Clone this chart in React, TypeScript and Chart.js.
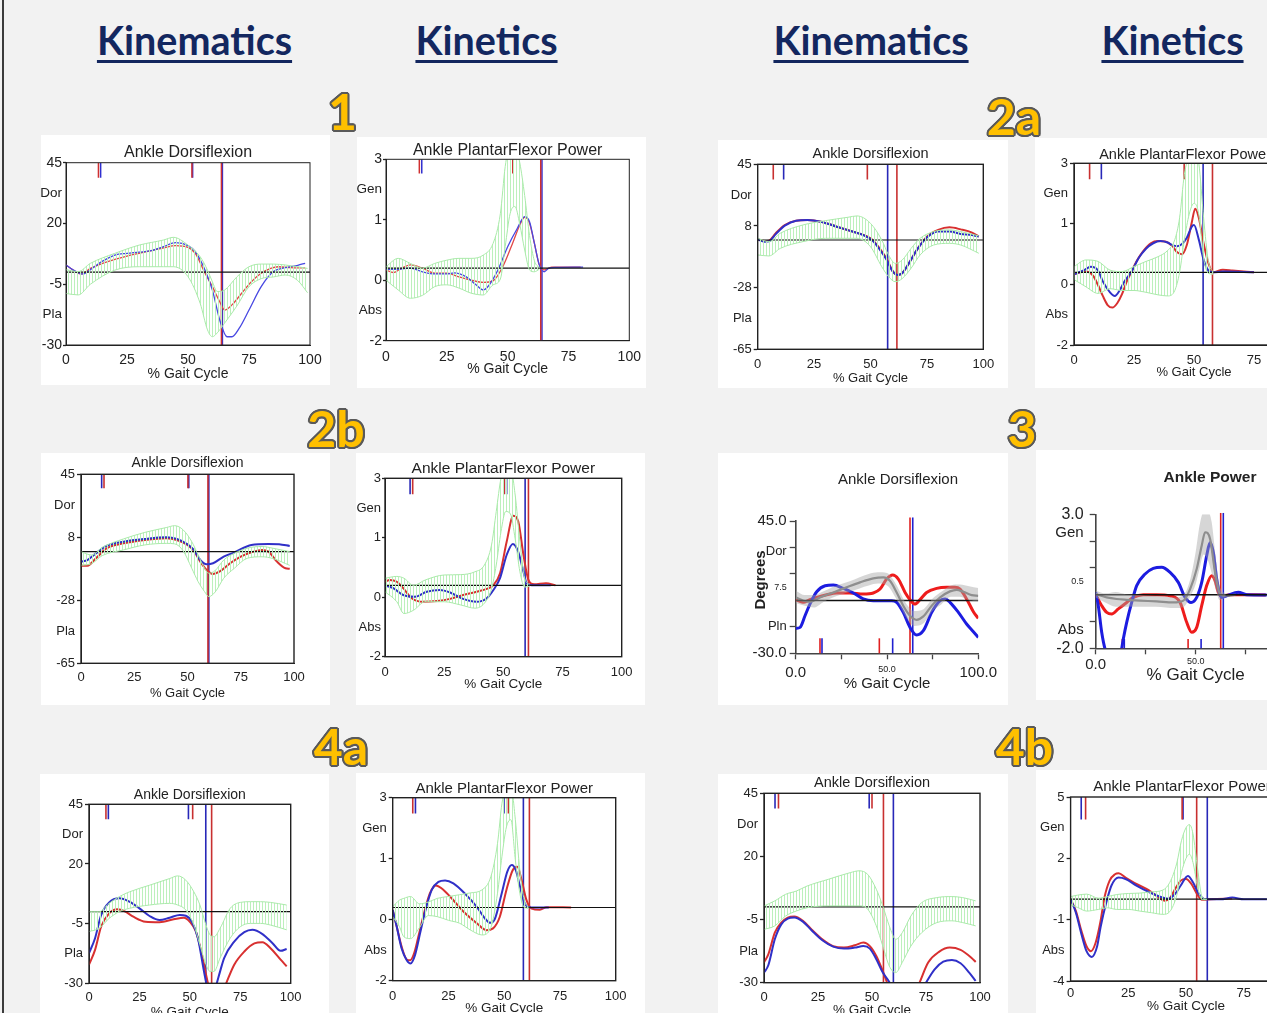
import React, { useEffect, useRef } from 'react';
import { Chart, registerables } from 'chart.js';

Chart.register(...registerables);

type Pt = [number, number];
type Ev = [number, 'r' | 'b', 'short' | 'full'];

const FONT = '"Liberation Sans", Arial, Helvetica, sans-serif';

// ---------------- tick values / labels ----------------
const X_TICKS = [0, 25, 50, 75, 100];
const X_LABELS_VICON = ['0', '25', '50', '75', '100'];
const X_LABELS_MODERN = ['0.0', '', '50.0', '', '100.0'];

const KIN_A_TICKS = [45, 32.5, 20, -5, -17.5, -30];
const KIN_A_LABELS = ['45', 'Dor', '20', '-5', 'Pla', '-30'];
const KIN_B_TICKS = [45, 26.67, 8.33, -28.33, -46.67, -65];
const KIN_B_LABELS = ['45', 'Dor', '8', '-28', 'Pla', '-65'];
const POW_A_TICKS = [3, 2.167, 1.333, -0.333, -1.167, -2];
const POW_A_LABELS = ['3', 'Gen', '1', '0', 'Abs', '-2'];
const POW_B_TICKS = [5, 3.5, 2, -1, -2.5, -4];
const POW_B_LABELS = ['5', 'Gen', '2', '-1', 'Abs', '-4'];
const VICON_MARKS = [true, false, true, true, false, true];
const P1_Y_SIZES = [14, 13.5, 14, 14, 13.5, 14];

const MOD_KIN_TICKS = [45, 30, 28, 15, 7.5, 0, -15, -30];
const MOD_KIN_LABELS = ['45.0', '', 'Dor', '', '7.5', '', 'Pln', '-30.0'];
const MOD_KIN_MARKS = [true, true, false, true, false, false, true, true];
const MOD_KIN_SIZES = [15, 9, 13, 9, 9, 9, 13, 15];
const MOD_POW_TICKS = [3, 2.3, 2, 1, 0.5, 0, -1, -1.3, -2];
const MOD_POW_LABELS = ['3.0', 'Gen', '', '', '0.5', '', '', 'Abs', '-2.0'];
const MOD_POW_MARKS = [true, false, true, true, false, false, true, false, true];
const MOD_POW_SIZES = [16, 15, 9, 9, 9, 9, 9, 15, 16];

// ---------------- Panel 1 ----------------
const P1_KIN_RED: Pt[] = [[0, 2.9], [3, 0.8], [6, -0.8], [10, 1.5], [15, 3.6], [20, 5.2], [25, 6.6], [30, 7.7], [35, 8.8], [40, 10], [45, 10.9], [50, 10.2], [53, 7.7], [57, -0.5], [60, -6], [63, -12.2], [65, -15.6], [68, -13.5], [72, -8.7], [76, -4], [80, -0.5], [87, 2.2], [92, 1.8], [98, 1.7]];
const P1_KIN_BLUE: Pt[] = [[0, 2.9], [3, 0.8], [7, -0.8], [10, 1], [15, 4.5], [20, 7], [25, 7.7], [30, 8.2], [35, 8.8], [40, 10.5], [45, 12.1], [50, 10.9], [53, 8.4], [57, 0.8], [60, -7.4], [63, -19.7], [66, -26.6], [68, -26.6], [71, -23.1], [75, -15.6], [80, -6], [85, 0.2], [90, 1.8], [95, 2.8], [98, 3.6]];
const P1_KIN_BAND_X = [0, 5, 10, 20, 30, 40, 44, 50, 55, 58, 60, 62, 65, 70, 75, 80, 85, 90, 95, 99];
const P1_KIN_BAND_HI = [1, 0.2, 3.6, 7.7, 11.1, 13.2, 14.3, 11.1, 6.3, 0.8, -4, -8, -7.4, -2, 2.2, 3.3, 3.3, 2.9, 2.2, 1.5];
const P1_KIN_BAND_LO = [-8.8, -9.4, -5, 0.8, 2.2, 2.2, 2.2, -1.9, -12.9, -23.8, -26.6, -25, -21, -14, -6, -2.7, -2, -1.2, -3.5, -8.5];
const P1_KIN_EVENTS: Ev[] = [[13.3, 'r', 'short'], [14.2, 'b', 'short'], [51.6, 'r', 'short'], [51.9, 'b', 'short'], [63.7, 'r', 'full'], [64.1, 'b', 'full']];

const P1_POW_RED: Pt[] = [[0, -0.05], [3, -0.12], [6, -0.02], [10, 0.09], [15, 0], [20, -0.14], [25, -0.14], [30, -0.24], [35, -0.33], [40, -0.39], [44, -0.35], [48, 0.04], [52, 0.68], [55, 1.19], [57, 1.4], [59, 1.24], [61, 0.68], [63, 0.09], [65, -0.05], [68, 0.03], [80, 0.03]];
const P1_POW_BLUE: Pt[] = [[0, -0.03], [5, -0.03], [10, 0], [15, -0.1], [20, -0.16], [25, -0.16], [28, -0.13], [33, -0.24], [37, -0.46], [40, -0.6], [42, -0.5], [46, -0.05], [50, 0.59], [54, 1.1], [57, 1.42], [59, 1.28], [61, 0.68], [63, 0.09], [65, -0.1], [67, 0], [70, 0.02], [81, 0.03]];
const P1_POW_BAND_X = [0, 5, 10, 15, 20, 25, 30, 35, 40, 44, 47, 49, 51, 53, 55, 57, 59, 61, 63];
const P1_POW_BAND_HI = [0.04, 0.27, 0.13, 0, 0.13, 0.22, 0.27, 0.27, 0.36, 0.68, 1.5, 2.8, 3.4, 3.4, 2.9, 2, 0.9, 0.2, 0.02];
const P1_POW_BAND_LO = [-0.33, -0.6, -0.83, -0.75, -0.51, -0.46, -0.55, -0.69, -0.74, -0.46, -0.3, 0.6, 1.5, 1.7, 1.2, 0.5, -0.05, -0.1, -0.03];
const P1_POW_EVENTS: Ev[] = [[13.7, 'r', 'short'], [14.7, 'b', 'short'], [52.1, 'r', 'short'], [63.6, 'r', 'full'], [64.1, 'b', 'full']];

// ---------------- Panel 2a ----------------
const P2A_KIN_RED: Pt[] = [[0, 0.4], [3, -0.6], [5, -0.4], [8, 4], [12, 8.9], [17, 11.5], [22, 11.9], [28, 10.9], [35, 7.9], [42, 5], [48, 2.4], [51, 0], [54, -5], [57, -10.9], [60, -18.8], [62, -20.8], [64, -19.8], [67, -13.9], [71, -5], [75, 2], [80, 6], [85, 7.5], [90, 6.3], [95, 4.4], [98, 2]];
const P2A_KIN_BLUE: Pt[] = [[0, 0.4], [3, -1], [5, -0.8], [8, 3.5], [12, 8.5], [17, 11.5], [22, 11.9], [28, 10.9], [35, 7.9], [42, 5], [48, 2.2], [51, -0.5], [54, -5.5], [57, -11.5], [60, -19], [62, -20.8], [64, -19.8], [67, -13.9], [71, -5], [75, 1.5], [80, 5], [85, 5], [90, 3.6], [95, 3], [98, 2]];
const P2A_KIN_BAND_X = [0, 5, 10, 20, 30, 40, 44, 50, 55, 58, 61, 64, 68, 72, 78, 85, 90, 98];
const P2A_KIN_BAND_HI = [1, -1, 4, 8.9, 11.5, 13.5, 14.3, 9.9, 0, -8.9, -13.9, -12, -5, 1, 5, 6, 5, 2.4];
const P2A_KIN_BAND_LO = [-8.9, -9.5, -5, -1, 1, 1, 1, -4, -15.9, -21.8, -24.8, -23, -16.8, -8.9, -3, -2, -3, -7.9];
const P2A_KIN_EVENTS: Ev[] = [[6.9, 'r', 'short'], [11.5, 'b', 'short'], [48.6, 'r', 'short'], [57.6, 'b', 'full'], [61.7, 'r', 'full']];

const P2A_POW_RED: Pt[] = [[0, -0.05], [5, 0.02], [8, -0.1], [10, -0.35], [12, -0.65], [14, -0.9], [16, -0.97], [18, -0.85], [20, -0.6], [22, -0.25], [24, 0.02], [26, 0.3], [29, 0.6], [32, 0.8], [35, 0.86], [38, 0.85], [41, 0.72], [43, 0.55], [45, 0.5], [47, 0.75], [49, 1.35], [50.5, 1.75], [52, 1.5], [54, 0.8], [56, 0.25], [58, 0], [62, 0.07], [66, 0.05], [75, 0]];
const P2A_POW_BLUE: Pt[] = [[0, -0.05], [4, 0.05], [7, 0.15], [10, 0.05], [12, -0.25], [15, -0.55], [17, -0.65], [19, -0.5], [21, -0.25], [24, 0.02], [27, 0.4], [30, 0.65], [33, 0.8], [36, 0.86], [39, 0.82], [41, 0.75], [43, 0.72], [45, 0.78], [47, 0.95], [49, 1.25], [50, 1.3], [52, 0.9], [54, 0.35], [56, 0.05], [58, 0], [62, 0.02], [75, 0]];
const P2A_POW_BAND_X = [0, 5, 10, 15, 20, 25, 30, 35, 39, 42, 44, 46, 48, 50, 52, 54, 56, 58];
const P2A_POW_BAND_HI = [0.16, 0.34, 0.3, 0.06, 0.02, 0.16, 0.3, 0.43, 0.6, 0.9, 1.5, 2.7, 3.2, 3.3, 3, 1.5, 0.3, 0];
const P2A_POW_BAND_LO = [-0.2, -0.4, -0.58, -0.45, -0.5, -0.5, -0.55, -0.62, -0.65, -0.5, 0, 0.9, 1.6, 1.9, 1.6, 0.4, -0.03, -0.05];
const P2A_POW_EVENTS: Ev[] = [[6.5, 'r', 'short'], [11.4, 'b', 'short'], [45.9, 'r', 'short'], [53.8, 'b', 'full'], [57.7, 'r', 'full']];

// ---------------- Panel 2b ----------------
const P2B_KIN_RED: Pt[] = [[0, -8.2], [3, -8.2], [7, -3.9], [12, 1.9], [20, 4.8], [30, 6.8], [40, 7.8], [45, 6.8], [50, 3.9], [53, 0.4], [56, -5.8], [59, -10.7], [62, -13], [65, -11.7], [70, -6.8], [75, -2.9], [80, -0.4], [85, 1], [88, 0], [92, -5.8], [96, -9.7], [98, -10]];
const P2B_KIN_BLUE: Pt[] = [[0, -5.8], [3, -4.9], [7, -1], [12, 3.3], [20, 5.8], [30, 7.4], [40, 8.3], [45, 7.4], [50, 4.3], [53, 1], [56, -4.9], [59, -7.4], [62, -6.8], [67, -2.9], [72, -0.4], [80, 3.9], [88, 4.5], [93, 4.3], [98, 3.3]];
const P2B_KIN_BAND_X = [0, 5, 10, 20, 30, 40, 44, 48, 52, 55, 58, 60, 63, 67, 72, 78, 85, 90, 98];
const P2B_KIN_BAND_HI = [0, -2, 2.5, 7.4, 11.2, 14, 15.1, 12.6, 5.8, -2, -9.7, -12.6, -11, -4.9, -1, 2, 3, 2, 0];
const P2B_KIN_BAND_LO = [-8, -7, -2.3, 1, 3.9, 4.8, 4.5, 0.4, -9.7, -17.5, -23.3, -26.2, -23.5, -15.5, -9.7, -3.9, -3, -4, -8];
const P2B_KIN_EVENTS: Ev[] = [[9.7, 'b', 'short'], [10.8, 'r', 'short'], [50.2, 'r', 'short'], [50.6, 'b', 'short'], [59.6, 'r', 'full'], [60, 'b', 'full']];

const P2B_POW_RED: Pt[] = [[0, 0.1], [2, 0.15], [5, 0.1], [7.7, -0.08], [11.3, -0.36], [16, -0.46], [22, -0.44], [27.5, -0.38], [33, -0.27], [38.7, -0.18], [43, -0.1], [45.8, 0.01], [48.6, 0.34], [51.4, 1.22], [54.2, 1.95], [56.3, 1.79], [58.5, 0.85], [60.6, 0.15], [63, 0.03], [68, 0.06], [72, 0]];
const P2B_POW_BLUE: Pt[] = [[0, 0], [3.5, -0.08], [7.7, -0.27], [12.7, -0.32], [17.6, -0.18], [23.2, -0.13], [27.5, -0.2], [33, -0.38], [38.7, -0.46], [43, -0.36], [45.8, -0.13], [48.6, 0.2], [51.4, 0.85], [54, 1.16], [56.3, 0.94], [58.5, 0.38], [59.9, 0.05], [62, 0], [70, 0]];
const P2B_POW_BAND_X = [0, 5, 8, 12, 17, 25, 32, 38, 42, 45, 47, 49, 51, 53, 55, 57, 59, 61];
const P2B_POW_BAND_HI = [0.2, 0.25, 0.2, 0, 0.15, 0.29, 0.3, 0.38, 0.57, 1.13, 2.07, 3, 3.3, 3.3, 2.53, 1.22, 0.2, 0.02];
const P2B_POW_BAND_LO = [-0.18, -0.46, -0.79, -0.7, -0.46, -0.46, -0.55, -0.64, -0.5, -0.1, 0.57, 1.5, 2.07, 2, 1.3, 0.38, -0.05, -0.03];
const P2B_POW_EVENTS: Ev[] = [[10.6, 'b', 'short'], [11.7, 'r', 'short'], [50.4, 'r', 'short'], [51.4, 'b', 'short'], [59.2, 'b', 'full'], [60.6, 'r', 'full']];

// ---------------- Panel 3 ----------------
const P3_KIN_RED: Pt[] = [[0, 0.4], [4, -1.1], [7.8, 0.4], [11.5, 1.7], [17, 3.2], [22.4, 4.2], [29.7, 4.2], [37, 3.6], [42.5, 4.2], [46.2, 6.4], [49.8, 12.1], [53.1, 14.4], [56.2, 12.1], [59.9, 4.5], [62.6, 0.4], [65.3, -2.1], [68.1, 0.4], [71.7, 4.5], [77.2, 6.8], [82.7, 7.4], [87.2, 7.4], [90, 6.4], [93.6, 0.8], [97.3, -6.4], [100, -10.2]];
const P3_KIN_BLUE: Pt[] = [[0, -15.9], [2.4, -15.3], [5.1, -8.7], [7.8, -2.1], [11.5, 4.9], [16.1, 8.3], [20.6, 8.7], [26.1, 6.8], [31.6, 4.2], [37, 0.8], [42.5, -0.2], [48, -0.2], [52.6, -0.2], [55.3, -1.1], [58.9, -6.8], [62.6, -15.3], [66.2, -19.6], [69.9, -17.2], [74.5, -6.8], [79.1, -0.2], [81.8, 0.8], [84.5, -1.1], [89.1, -6.8], [93.6, -13.4], [97.3, -17.8], [100, -21]];
const P3_KIN_MEAN: Pt[] = [[0, 1.7], [4.2, -0.2], [7.8, -0.8], [13.3, 1.7], [20.6, 4.5], [27.9, 7.4], [35.2, 10.2], [42.5, 12.5], [48, 13], [51.6, 11.1], [55.3, 4.5], [58.9, -3], [62.6, -8.7], [66.2, -11], [69.9, -9.1], [74.5, -3], [79.1, 1.7], [84.5, 5.1], [88.1, 6], [91.8, 4.9], [96.4, 3], [100, 2.6]];
const P3_KIN_BAND_X = [0, 5, 10, 15, 20, 30, 40, 45, 50, 55, 60, 65, 70, 75, 80, 85, 90, 95, 100];
const P3_KIN_BAND_HI = [5.5, 3, 3, 5, 7.5, 11, 15, 16, 15.5, 9, -1, -6, -5, 1, 5, 8.5, 9, 8, 7];
const P3_KIN_BAND_LO = [-1.5, -3, -4, -1, 1.5, 5, 8.5, 9.5, 8.5, 1, -9, -14.5, -13, -6, -2, 2, 2, 0, -0.5];
const P3_KIN_EVENTS: Ev[] = [[13.3, 'r', 'short'], [14.4, 'b', 'short'], [45.8, 'r', 'short'], [53.1, 'b', 'short'], [62.6, 'r', 'full'], [64.1, 'b', 'full']];

const P3_POW_RED: Pt[] = [[0, 0], [3, -0.41], [5.5, -0.66], [8, -0.72], [11.3, -0.53], [15.5, -0.29], [18.8, -0.1], [23.8, 0], [30.5, 0], [37.2, -0.04], [42.2, -0.29], [45.5, -1.03], [48, -1.4], [50.5, -1.22], [53, -0.41], [55.5, 0.34], [58, 0.71], [59.7, 0.52], [61.3, 0.09], [63, -0.06], [67, 0], [85, -0.01]];
const P3_POW_BLUE: Pt[] = [[0, 0.09], [1.3, -0.41], [3, -1.4], [4.7, -2.03], [7, -2.4], [10, -2.5], [12.5, -2.2], [13.8, -1.65], [15.5, -1.03], [18, -0.29], [20.5, 0.34], [24.7, 0.77], [28.8, 0.98], [33, 1.02], [37.2, 0.83], [41.3, 0.46], [44.7, -0.1], [47.7, -0.29], [50.5, -0.1], [53, 0.46], [55.5, 1.46], [57.2, 1.95], [58.8, 1.58], [60.5, 0.58], [63, -0.1], [65.5, -0.04], [71.3, 0.09], [75.5, 0], [85.5, -0.01]];
const P3_POW_MEAN: Pt[] = [[0, 0.02], [5.5, -0.1], [10.5, -0.16], [15.5, -0.19], [22, -0.22], [30.5, -0.25], [38.8, -0.29], [43.8, -0.22], [47.2, 0.21], [50.5, 0.96], [53, 1.83], [54.7, 2.33], [57.2, 2.08], [59.7, 0.83], [62.2, 0.02], [65, -0.04], [70, 0]];
const P3_POW_BAND_X = [0, 5, 10, 15, 20, 30, 40, 44, 47, 50, 52, 54, 56, 58, 60, 62, 65];
const P3_POW_BAND_HI = [0.15, 0.05, 0.1, 0.02, 0, -0.05, -0.1, 0, 0.5, 1.6, 2.6, 3.1, 3.1, 2.7, 1.4, 0.3, 0.05];
const P3_POW_BAND_LO = [-0.1, -0.3, -0.45, -0.45, -0.45, -0.45, -0.5, -0.45, -0.1, 0.4, 1, 1.5, 1.3, 0.8, 0.2, -0.2, -0.1];
const P3_POW_EVENTS: Ev[] = [[13.3, 'r', 'short'], [14.3, 'b', 'short'], [46.2, 'r', 'short'], [52.7, 'b', 'short'], [62.5, 'r', 'full'], [63.8, 'b', 'full']];

// ---------------- Panel 4a ----------------
const P4A_KIN_RED: Pt[] = [[0, -22.2], [3, -16], [6, -6.3], [10, -0.7], [14, 1], [18, 0], [22, -2.1], [28, -4.2], [35, -4.4], [42, -3.2], [47, -2.5], [50, -4.2], [53, -8.3], [56, -18], [59, -30], [62, -38], [65, -36], [68, -30], [72, -22.2], [77, -16.7], [82, -13.3], [86, -12.8], [90, -15.3], [95, -20.1], [98, -22.9]];
const P4A_KIN_BLUE: Pt[] = [[0, -17.4], [3, -11.1], [6, -1.4], [10, 3.9], [15, 5.6], [20, 4.2], [25, 1.4], [30, -1.8], [35, -3.5], [40, -2.5], [45, -1.4], [48, -1.7], [51, -4.2], [54, -11.1], [57, -25], [59, -33], [61, -36], [63, -31], [65, -25], [67, -19.4], [72, -12.5], [77, -8.6], [81, -7.6], [86, -9.4], [91, -13.2], [95, -16.4], [98, -15.6]];
const P4A_KIN_BAND_X = [0, 5, 10, 15, 20, 30, 40, 44, 48, 52, 55, 58, 60, 62, 65, 70, 75, 80, 85, 90, 98];
const P4A_KIN_BAND_HI = [0, 0, 3.5, 6.3, 8.3, 11.1, 13.9, 15, 13.2, 8.3, 2.8, -5.6, -9.7, -10.5, -6.9, 1.4, 3.9, 4.2, 4.2, 3.9, 2.8];
const P4A_KIN_BAND_LO = [-8.3, -7, -2.8, 0, 1.4, 2.8, 3.5, 2.8, 0.7, -5.6, -13.9, -22.2, -25, -25, -19.4, -11.1, -6.3, -4.9, -4.9, -5.6, -7.6];
const P4A_KIN_EVENTS: Ev[] = [[8.4, 'r', 'short'], [9.6, 'b', 'short'], [49.3, 'b', 'short'], [51.4, 'r', 'short'], [57.9, 'b', 'full'], [60.8, 'r', 'full']];

const P4A_POW_RED: Pt[] = [[0, -0.07], [1.8, -0.52], [4, -1.07], [6.3, -1.42], [7.8, -1.44], [9.6, -1.25], [11.5, -0.8], [13.8, -0.22], [16.7, 0.39], [19.4, 0.6], [22, 0.52], [25.7, 0.3], [31.7, -0.11], [37.7, -0.43], [42, -0.62], [45, -0.57], [48, -0.26], [51, 0.48], [53.8, 1.02], [55.9, 1.11], [57.8, 0.75], [60, 0.2], [62.3, -0.03], [66, -0.06], [69, 0.01], [80, 0]];
const P4A_POW_BLUE: Pt[] = [[0, -0.07], [1.8, -0.52], [4, -1.12], [6.3, -1.44], [8, -1.53], [10, -1.3], [12.3, -0.7], [14.5, -0.12], [17.5, 0.48], [20.5, 0.7], [23.5, 0.74], [27.2, 0.66], [32.4, 0.38], [37.7, 0.02], [41.4, -0.3], [43.6, -0.42], [45.9, -0.3], [48.9, 0.39], [51.4, 0.98], [53.4, 1.16], [55.2, 1.02], [57.1, 0.57], [58.9, 0.16], [60.8, 0.01], [64, 0], [70, 0]];
const P4A_POW_BAND_X = [0, 3, 5, 8, 12, 16, 20, 25, 30, 35, 40, 44, 47, 49, 51, 53, 55, 57, 59, 61];
const P4A_POW_BAND_HI = [0.02, 0.2, 0.25, 0.3, 0.1, 0.15, 0.25, 0.3, 0.35, 0.4, 0.48, 0.84, 1.75, 2.85, 3.3, 3.3, 2.4, 1.02, 0.2, 0];
const P4A_POW_BAND_LO = [-0.25, -0.52, -0.8, -0.85, -0.55, -0.22, -0.25, -0.35, -0.43, -0.62, -0.75, -0.55, 0.39, 1.4, 2.2, 2.4, 1.3, 0.39, 0, -0.02];
const P4A_POW_EVENTS: Ev[] = [[9, 'r', 'short'], [10.2, 'b', 'short'], [49.9, 'b', 'short'], [51.9, 'r', 'short'], [58.6, 'b', 'full'], [61.3, 'r', 'full']];

// ---------------- Panel 4b ----------------
const P4B_KIN_RED: Pt[] = [[0, -22], [2, -18.8], [5, -10.2], [8, -6.2], [11, -4.2], [14, -3.8], [18, -5.5], [22, -8.9], [27, -12.8], [32, -15.5], [37, -16.1], [42, -15.2], [46, -14.1], [49, -15.5], [52, -19.4], [55, -25.4], [57, -30], [60, -36], [65, -40], [70, -34], [72, -30], [76, -22], [81, -17.8], [86, -16.1], [91, -17], [96, -20.1], [98, -21.8]];
const P4B_KIN_BLUE: Pt[] = [[0, -26], [2, -23.1], [5, -12.8], [8, -6.9], [11, -4.6], [14, -4.2], [18, -5.8], [22, -9.2], [27, -13.2], [32, -15.7], [37, -16.5], [42, -16.1], [46, -15.5], [49, -16.5], [52, -20.7], [55, -26], [58, -29.7], [62, -36], [68, -40], [73, -33], [75, -30], [79, -24.7], [83, -21.7], [87, -21], [91, -22.3], [95, -26], [98, -29.3]];
const P4B_KIN_BAND_X = [0, 5, 10, 15, 20, 30, 40, 44, 48, 52, 55, 58, 61, 64, 68, 73, 80, 87, 92, 98];
const P4B_KIN_BAND_HI = [0.4, 2.4, 5, 6.3, 8.3, 11, 13.6, 14.3, 12.9, 7, 0.4, -7.5, -12.8, -10.2, -3.6, 1.7, 3.7, 4.1, 3.7, 2.4];
const P4B_KIN_BAND_LO = [-8.9, -7.5, -3.6, -1.6, -0.3, 0.4, 0.4, 0.4, -0.9, -7.5, -15.5, -23.4, -26, -22, -15.5, -10.2, -6.2, -5.5, -6.2, -7.5];
const P4B_KIN_EVENTS: Ev[] = [[5.1, 'b', 'short'], [6.7, 'r', 'short'], [48.7, 'b', 'short'], [50, 'r', 'short'], [55.3, 'r', 'full'], [59.9, 'b', 'full']];

const P4B_POW_RED: Pt[] = [[0, 0], [2.3, -0.58], [4.6, -1.52], [6.9, -2.3], [8.8, -2.54], [10.8, -2.14], [13, -1.05], [14.6, 0.05], [16.9, 0.91], [19.2, 1.22], [20.8, 1.27], [23.8, 1.06], [28.5, 0.75], [33.8, 0.44], [37.7, 0.13], [40.8, -0.08], [43, 0.05], [45.4, 0.52], [47.7, 0.91], [50, 0.99], [52.3, 0.75], [54.6, 0.28], [56.9, -0.03], [60.8, 0], [70, 0.03]];
const P4B_POW_BLUE: Pt[] = [[0, 0], [2.3, -0.66], [4.6, -1.67], [6.9, -2.54], [9.2, -2.82], [11.5, -2.3], [13, -1.36], [15.4, -0.19], [17.7, 0.67], [20.8, 1.06], [23.8, 0.99], [28.5, 0.67], [33.8, 0.36], [38.5, 0.13], [42.3, 0.02], [45.4, 0.28], [47.7, 0.67], [50.8, 1.14], [53, 0.83], [55.4, 0.28], [58.5, 0], [65, 0], [70, 0.08], [75, 0], [85, 0]];
const P4B_POW_BAND_X = [0, 3, 7, 12, 16, 20, 25, 30, 35, 40, 43, 46, 48, 50, 51.5, 53, 55, 57, 59];
const P4B_POW_BAND_HI = [0.13, 0.2, 0.25, 0.05, 0.13, 0.23, 0.28, 0.3, 0.36, 0.45, 0.83, 1.77, 2.86, 3.5, 3.65, 3.2, 1.5, 0.1, 0];
const P4B_POW_BAND_LO = [-0.27, -0.4, -0.58, -0.5, -0.42, -0.5, -0.5, -0.58, -0.66, -0.74, -0.6, 0.2, 1.3, 2, 2.2, 1.8, 0.6, -0.02, -0.02];
const P4B_POW_EVENTS: Ev[] = [[4.6, 'b', 'short'], [6.5, 'r', 'short'], [48.3, 'r', 'short'], [48.7, 'b', 'short'], [54.6, 'r', 'full'], [59.2, 'b', 'full']];

// ---------------- panel layout / style ----------------
interface PanelCfg {
  key: string;
  left: number; top: number; w: number; h: number;
  plot: [number, number, number, number];
  modern?: boolean;
  title: string; titleY: number; titleX?: number; titleSize: number; titleBold?: boolean;
  yMin: number; yMax: number;
  yTicks: number[]; yLabels: string[]; yMarks: boolean[]; ySizes?: number[]; ySize: number;
  xLabels: string[]; xSizes?: number[]; xSize: number;
  xPad: number; yPad: number; tickLen: number; xTickLen: number;
  xTitleY: number; xTitleSize: number;
  yTitle?: { text: string; x: number; y: number; size: number };
  red: Pt[]; blue: Pt[]; mean?: Pt[];
  bandX: number[]; bandLo: number[]; bandHi: number[];
  events: Ev[]; shortLen: number; fullTop?: number;
  lineW: number; evW: number;
  redColor: string; blueColor: string; evRed: string; evBlue: string;
  frameW: number;
}

const OLD = { redColor: '#e24848', blueColor: '#4848e2', evRed: '#d03030', evBlue: '#3030d0', lineW: 1.3, evW: 1.5, frameW: 1 };
const VIC = { redColor: '#d83030', blueColor: '#3030c8', evRed: '#c83030', evBlue: '#2828b8', lineW: 2, evW: 1.6, frameW: 1.4 };
const MOD = { redColor: '#ee1c1c', blueColor: '#1c1ce0', evRed: '#e02020', evBlue: '#2020d0', lineW: 3, evW: 1.6, frameW: 0 };

const KIN_A = { yMin: -30, yMax: 45, yTicks: KIN_A_TICKS, yLabels: KIN_A_LABELS, yMarks: VICON_MARKS };
const KIN_B = { yMin: -65, yMax: 45, yTicks: KIN_B_TICKS, yLabels: KIN_B_LABELS, yMarks: VICON_MARKS };
const POW_A = { yMin: -2, yMax: 3, yTicks: POW_A_TICKS, yLabels: POW_A_LABELS, yMarks: VICON_MARKS };
const POW_B = { yMin: -4, yMax: 5, yTicks: POW_B_TICKS, yLabels: POW_B_LABELS, yMarks: VICON_MARKS };

const VX = { xLabels: X_LABELS_VICON, tickLen: 4, xTickLen: 3, yPad: 2 };

const PANELS: PanelCfg[] = [
  {
    key: 'p1k', left: 41, top: 135, w: 289, h: 250, plot: [25, 27.7, 269, 210],
    title: 'Ankle Dorsiflexion', titleY: 17.7, titleSize: 16, ...KIN_A, ySizes: P1_Y_SIZES, ySize: 14, xSize: 14, ...VX, tickLen: 3, yPad: 1, xPad: 3.3,
    xTitleY: 239.3, xTitleSize: 14, red: P1_KIN_RED, blue: P1_KIN_BLUE,
    bandX: P1_KIN_BAND_X, bandLo: P1_KIN_BAND_LO, bandHi: P1_KIN_BAND_HI, events: P1_KIN_EVENTS, shortLen: 6.2, ...OLD,
  },
  {
    key: 'p1p', left: 357, top: 137, w: 289, h: 251, plot: [29, 22.3, 272.3, 203.7],
    title: 'Ankle PlantarFlexor Power', titleY: 13.7, titleSize: 16, ...POW_A, ySizes: P1_Y_SIZES, ySize: 14, xSize: 14, ...VX, tickLen: 3, yPad: 1, xPad: 4.6,
    xTitleY: 232.3, xTitleSize: 14, red: P1_POW_RED, blue: P1_POW_BLUE,
    bandX: P1_POW_BAND_X, bandLo: P1_POW_BAND_LO, bandHi: P1_POW_BAND_HI, events: P1_POW_EVENTS, shortLen: 0.39, ...OLD,
  },
  {
    key: 'p2ak', left: 718, top: 140, w: 290, h: 248, plot: [39.7, 24.3, 265.3, 209.3],
    title: 'Ankle Dorsiflexion', titleY: 14, titleSize: 14.5, ...KIN_B, ySize: 13, xSize: 13, ...VX, xPad: 4.8,
    xTitleY: 238.3, xTitleSize: 13, red: P2A_KIN_RED, blue: P2A_KIN_BLUE,
    bandX: P2A_KIN_BAND_X, bandLo: P2A_KIN_BAND_LO, bandHi: P2A_KIN_BAND_HI, events: P2A_KIN_EVENTS, shortLen: 9, ...VIC,
  },
  {
    key: 'p2ap', left: 1035, top: 138, w: 300, h: 250, plot: [39, 25.3, 279, 207],
    title: 'Ankle PlantarFlexor Power', titleY: 17, titleX: 150, titleSize: 14.5, ...POW_A, ySize: 13, xSize: 13, ...VX, xPad: 4.8,
    xTitleY: 234.7, xTitleSize: 13, red: P2A_POW_RED, blue: P2A_POW_BLUE,
    bandX: P2A_POW_BAND_X, bandLo: P2A_POW_BAND_LO, bandHi: P2A_POW_BAND_HI, events: P2A_POW_EVENTS, shortLen: 0.44, ...VIC,
  },
  {
    key: 'p2bk', left: 41, top: 453, w: 289, h: 252, plot: [40, 21.3, 253, 210.3],
    title: 'Ankle Dorsiflexion', titleY: 10.3, titleSize: 14, ...KIN_B, ySize: 13, xSize: 13, ...VX, xPad: 3.2,
    xTitleY: 240.3, xTitleSize: 13, red: P2B_KIN_RED, blue: P2B_KIN_BLUE,
    bandX: P2B_KIN_BAND_X, bandLo: P2B_KIN_BAND_LO, bandHi: P2B_KIN_BAND_HI, events: P2B_KIN_EVENTS, shortLen: 8.1, ...VIC,
  },
  {
    key: 'p2bp', left: 356, top: 453, w: 289, h: 252, plot: [29, 25.3, 265.7, 203.7],
    title: 'Ankle PlantarFlexor Power', titleY: 16, titleSize: 15.5, ...POW_A, ySize: 13, xSize: 13, ...VX, tickLen: 3, yPad: 1, xPad: 4.8,
    xTitleY: 231.3, xTitleSize: 13.5, red: P2B_POW_RED, blue: P2B_POW_BLUE,
    bandX: P2B_POW_BAND_X, bandLo: P2B_POW_BAND_LO, bandHi: P2B_POW_BAND_HI, events: P2B_POW_EVENTS, shortLen: 0.45, ...VIC,
  },
  {
    key: 'p3k', left: 718, top: 453, w: 290, h: 252, plot: [77.7, 68, 260.3, 200.3], modern: true,
    title: 'Ankle Dorsiflexion', titleY: 27, titleX: 180, titleSize: 15,
    yMin: -30, yMax: 45, yTicks: MOD_KIN_TICKS, yLabels: MOD_KIN_LABELS, yMarks: MOD_KIN_MARKS, ySizes: MOD_KIN_SIZES, ySize: 15,
    xLabels: X_LABELS_MODERN, xSizes: [15, 9, 9, 9, 15], xSize: 15, xPad: 5, yPad: 3, tickLen: 6, xTickLen: 6,
    xTitleY: 231.3, xTitleSize: 15, yTitle: { text: 'Degrees', x: 42.7, y: 127, size: 15 },
    red: P3_KIN_RED, blue: P3_KIN_BLUE, mean: P3_KIN_MEAN,
    bandX: P3_KIN_BAND_X, bandLo: P3_KIN_BAND_LO, bandHi: P3_KIN_BAND_HI, events: P3_KIN_EVENTS, shortLen: 8.5, fullTop: 47, ...MOD,
  },
  {
    key: 'p3p', left: 1036, top: 450, w: 300, h: 250, plot: [59.7, 64.3, 259.7, 198.3], modern: true,
    title: 'Ankle Power', titleY: 27.3, titleX: 174, titleSize: 15.5, titleBold: true,
    yMin: -2, yMax: 3, yTicks: MOD_POW_TICKS, yLabels: MOD_POW_LABELS, yMarks: MOD_POW_MARKS, ySizes: MOD_POW_SIZES, ySize: 16,
    xLabels: X_LABELS_MODERN, xSizes: [15, 9, 9, 9, 15], xSize: 15, xPad: 1.5, yPad: 6, tickLen: 6, xTickLen: 6,
    xTitleY: 225, xTitleSize: 17,
    red: P3_POW_RED, blue: P3_POW_BLUE, mean: P3_POW_MEAN,
    bandX: P3_POW_BAND_X, bandLo: P3_POW_BAND_LO, bandHi: P3_POW_BAND_HI, events: P3_POW_EVENTS, shortLen: 0.35, fullTop: 3.05, ...MOD,
  },
  {
    key: 'p4ak', left: 40, top: 774, w: 289, h: 250, plot: [49, 30.3, 250.7, 209.3],
    title: 'Ankle Dorsiflexion', titleY: 21, titleSize: 14, ...KIN_A, ySize: 13, xSize: 13, ...VX, xPad: 3.8,
    xTitleY: 238, xTitleSize: 13.5, red: P4A_KIN_RED, blue: P4A_KIN_BLUE,
    bandX: P4A_KIN_BAND_X, bandLo: P4A_KIN_BAND_LO, bandHi: P4A_KIN_BAND_HI, events: P4A_KIN_EVENTS, shortLen: 6.3, ...VIC,
  },
  {
    key: 'p4ap', left: 356, top: 773, w: 289, h: 250, plot: [36.7, 24.7, 259.7, 207.7],
    title: 'Ankle PlantarFlexor Power', titleY: 16.3, titleSize: 15, ...POW_A, ySize: 13, xSize: 13, ...VX, xPad: 4.8,
    xTitleY: 235, xTitleSize: 13.5, red: P4A_POW_RED, blue: P4A_POW_BLUE,
    bandX: P4A_POW_BAND_X, bandLo: P4A_POW_BAND_LO, bandHi: P4A_POW_BAND_HI, events: P4A_POW_EVENTS, shortLen: 0.43, ...VIC,
  },
  {
    key: 'p4bk', left: 718, top: 774, w: 290, h: 250, plot: [46, 19.3, 262, 208.7],
    title: 'Ankle Dorsiflexion', titleY: 9, titleSize: 14.5, ...KIN_A, ySize: 13, xSize: 13, ...VX, xPad: 4.1,
    xTitleY: 236, xTitleSize: 13.5, red: P4B_KIN_RED, blue: P4B_KIN_BLUE,
    bandX: P4B_KIN_BAND_X, bandLo: P4B_KIN_BAND_LO, bandHi: P4B_KIN_BAND_HI, events: P4B_KIN_EVENTS, shortLen: 6, ...VIC,
  },
  {
    key: 'p4bp', left: 1036, top: 770, w: 300, h: 250, plot: [34.6, 27, 265.5, 211],
    title: 'Ankle PlantarFlexor Power', titleY: 17, titleX: 146, titleSize: 15, ...POW_B, ySize: 13, xSize: 13, ...VX, xPad: 1.8,
    xTitleY: 236, xTitleSize: 13.5, red: P4B_POW_RED, blue: P4B_POW_BLUE,
    bandX: P4B_POW_BAND_X, bandLo: P4B_POW_BAND_LO, bandHi: P4B_POW_BAND_HI, events: P4B_POW_EVENTS, shortLen: 1.1, ...VIC,
  },
];

const HEADINGS = [
  { text: 'Kinematics', cx: 194.5 },
  { text: 'Kinetics', cx: 486.5 },
  { text: 'Kinematics', cx: 871 },
  { text: 'Kinetics', cx: 1172.5 },
];

const SECTION_LABELS = [
  { text: '1', cx: 342.5, base: 130 },
  { text: '2a', cx: 1014, base: 135 },
  { text: '2b', cx: 336, base: 447 },
  { text: '3', cx: 1022, base: 447 },
  { text: '4a', cx: 341, base: 765 },
  { text: '4b', cx: 1024.5, base: 765 },
];

function Panel({ cfg }: { cfg: PanelCfg }) {
  const ref = useRef<HTMLCanvasElement>(null);
  useEffect(() => {
    const canvas = ref.current!;
    const ctx2 = canvas.getContext('2d')!;
    let bandFill: any;
    if (cfg.modern) {
      bandFill = 'rgba(165,165,165,0.45)';
    } else {
      const pc = document.createElement('canvas');
      pc.width = 3; pc.height = 4;
      const g = pc.getContext('2d')!;
      g.fillStyle = 'rgb(188,240,188)';
      g.fillRect(0, 0, 1, 4);
      bandFill = ctx2.createPattern(pc, 'repeat');
    }
    const zip = (xs: number[], ys: number[]) => xs.map((x, i) => ({ x, y: ys[i] }));
    const toXY = (p: Pt[]) => p.map(([x, y]) => ({ x, y }));
    const curve = (data: any[], color: string, width: number) => ({
      data, borderColor: color, borderWidth: width, pointRadius: 0, fill: false, cubicInterpolationMode: 'monotone',
    });
    const axisColor = cfg.modern ? '#444' : '#222';
    const datasets: any[] = [];
    datasets.push({
      data: zip(cfg.bandX, cfg.bandLo), borderColor: cfg.modern ? 'rgba(0,0,0,0)' : 'rgb(170,234,170)',
      borderWidth: cfg.modern ? 0 : 1, pointRadius: 0, fill: false, cubicInterpolationMode: 'monotone',
    });
    datasets.push({
      data: zip(cfg.bandX, cfg.bandHi), borderColor: cfg.modern ? 'rgba(0,0,0,0)' : 'rgb(170,234,170)',
      borderWidth: cfg.modern ? 0 : 1, pointRadius: 0, fill: '-1', backgroundColor: bandFill, cubicInterpolationMode: 'monotone',
    });
    datasets.push({ data: [{ x: 0, y: 0 }, { x: 100, y: 0 }], borderColor: '#111', borderWidth: cfg.modern ? 1.5 : 1.2, pointRadius: 0, fill: false });
    if (cfg.mean) datasets.push(curve(toXY(cfg.mean), '#7c7c7c', 2.2));
    datasets.push(curve(toXY(cfg.blue), cfg.blueColor, cfg.lineW));
    datasets.push(curve(toXY(cfg.red), cfg.redColor, cfg.lineW));
    for (const [x, c, kind] of cfg.events) {
      let y0: number, y1: number;
      if (kind === 'full') { y0 = cfg.yMin; y1 = cfg.fullTop ?? cfg.yMax; }
      else if (cfg.modern) { y0 = cfg.yMin; y1 = cfg.yMin + cfg.shortLen; }
      else { y0 = cfg.yMax - cfg.shortLen; y1 = cfg.yMax; }
      datasets.push({
        data: [{ x, y: y0 }, { x, y: y1 }], borderColor: c === 'r' ? cfg.evRed : cfg.evBlue,
        borderWidth: cfg.evW, pointRadius: 0, fill: false, clip: cfg.modern ? false : undefined,
      });
    }
    const decor = {
      id: 'decor',
      afterDraw(chart: any) {
        const { ctx, chartArea: a } = chart;
        ctx.save();
        if (!cfg.modern) {
          ctx.strokeStyle = '#222';
          ctx.lineWidth = cfg.frameW;
          ctx.strokeRect(a.left, a.top, a.right - a.left, a.bottom - a.top);
        }
        ctx.fillStyle = '#222';
        ctx.font = `${cfg.titleBold ? 'bold ' : ''}${cfg.titleSize}px ${FONT}`;
        ctx.textAlign = 'center';
        ctx.textBaseline = 'middle';
        ctx.fillText(cfg.title, cfg.titleX ?? (a.left + a.right) / 2, cfg.titleY);
        if (cfg.yTitle) {
          ctx.translate(cfg.yTitle.x, cfg.yTitle.y);
          ctx.rotate(-Math.PI / 2);
          ctx.font = `bold ${cfg.yTitle.size}px ${FONT}`;
          ctx.fillText(cfg.yTitle.text, 0, 0);
        }
        ctx.restore();
      },
    };
    const chart = new Chart(canvas, {
      type: 'line',
      data: { datasets },
      options: {
        responsive: false, animation: false, devicePixelRatio: 1, events: [],
        layout: { padding: { left: 0, top: cfg.plot[1], right: cfg.w - cfg.plot[2], bottom: 0 } },
        plugins: { legend: { display: false }, tooltip: { enabled: false }, title: { display: false } },
        scales: {
          x: {
            type: 'linear', min: 0, max: 100, bounds: 'data',
            afterBuildTicks: (s: any) => { s.ticks = X_TICKS.map((v) => ({ value: v })); },
            afterFit: (s: any) => { s.height = cfg.h - cfg.plot[3]; },
            ticks: {
              autoSkip: false, maxRotation: 0, minRotation: 0, padding: cfg.xPad, color: '#222',
              font: (c: any) => ({ family: FONT, size: cfg.xSizes ? cfg.xSizes[c.index] ?? cfg.xSize : cfg.xSize }),
              callback: (_v: any, i: number) => cfg.xLabels[i],
            },
            grid: {
              drawOnChartArea: false, drawTicks: true, tickLength: cfg.xTickLen,
              tickColor: cfg.modern ? axisColor : 'rgba(0,0,0,0)', tickWidth: 1.3,
            },
            border: { display: true, color: axisColor, width: cfg.modern ? 1.6 : 1 },
            title: {
              display: true, text: '% Gait Cycle', color: '#222',
              font: { family: FONT, size: cfg.xTitleSize, lineHeight: 1.2 },
              padding: { top: 0, bottom: cfg.h - cfg.xTitleY - cfg.xTitleSize * 0.6 },
            },
          },
          y: {
            type: 'linear', min: cfg.yMin, max: cfg.yMax, bounds: 'data',
            afterBuildTicks: (s: any) => { s.ticks = cfg.yTicks.map((v) => ({ value: v })); },
            afterFit: (s: any) => { s.width = cfg.plot[0]; },
            ticks: {
              autoSkip: false, padding: cfg.yPad, color: '#222',
              font: (c: any) => ({ family: FONT, size: cfg.ySizes ? cfg.ySizes[c.index] ?? cfg.ySize : cfg.ySize }),
              callback: (_v: any, i: number) => cfg.yLabels[i],
            },
            grid: {
              drawOnChartArea: false, drawTicks: true, tickLength: cfg.tickLen, tickWidth: 1.3,
              tickColor: (c: any) => (cfg.yMarks[c.index] ? axisColor : 'rgba(0,0,0,0)'),
            },
            border: { display: true, color: axisColor, width: cfg.modern ? 1.6 : 1 },
          },
        },
      } as any,
      plugins: [decor],
    });
    return () => chart.destroy();
  }, [cfg]);
  return (
    <div style={{ position: 'absolute', left: cfg.left, top: cfg.top, width: cfg.w, height: cfg.h, background: '#fff' }}>
      <canvas ref={ref} width={cfg.w} height={cfg.h} style={{ display: 'block', width: cfg.w, height: cfg.h }} />
    </div>
  );
}

const ring = (c: string, r: number) => {
  const out: string[] = [];
  for (let i = 0; i < 16; i++) {
    const a = (i / 16) * Math.PI * 2;
    out.push(`${(Math.cos(a) * r).toFixed(2)}px ${(Math.sin(a) * r).toFixed(2)}px 0 ${c}`);
  }
  return out.join(', ');
};

export default function App() {
  return (
    <div style={{ position: 'fixed', left: 0, top: 0, width: 1267, height: 1013, overflow: 'hidden', background: '#f2f2f2' }}>
      <div style={{ position: 'absolute', left: 2, top: 0, width: 1.5, height: 1013, background: '#3c3c3c' }} />
      {HEADINGS.map((hd, i) => (
        <div key={i} style={{
          position: 'absolute', left: hd.cx - 150, top: 19.5, width: 300, textAlign: 'center',
          font: 'bold 39.5px Lato, "Open Sans", sans-serif', lineHeight: '40px', color: '#13275f',
        }}>
          <span style={{ textDecoration: 'underline', textDecorationThickness: '3px', textUnderlineOffset: '5px' }}>{hd.text}</span>
        </div>
      ))}
      {SECTION_LABELS.map((s, i) => (
        <div key={i} style={{
          position: 'absolute', left: s.cx - 50, top: s.base - 44.4, width: 100, textAlign: 'center',
          font: 'bold 50px Lato, "Open Sans", sans-serif', lineHeight: '50px', color: '#ffc000',
          textShadow: ring('#5a5a5a', 2),
        }}>{s.text}</div>
      ))}
      {PANELS.map((p) => <Panel key={p.key} cfg={p} />)}
    </div>
  );
}
